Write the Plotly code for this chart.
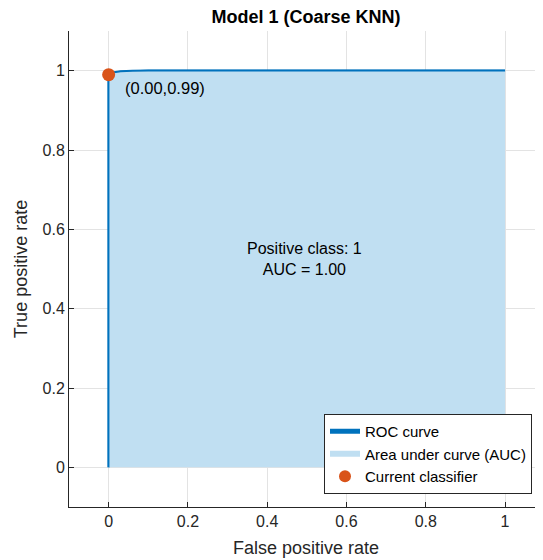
import plotly.graph_objects as go

fpr = [0.0, 0.0, 0.01, 0.03, 0.06, 0.1, 1.0]
tpr = [0.0, 0.99, 0.995, 0.998, 0.999, 1.0, 1.0]
cur_fpr = [0.0]
cur_tpr = [0.99]
title = "Model 1 (Coarse KNN)"
auc_text = "Positive class: 1<br>AUC = 1.00"
point_label = "(0.00,0.99)"

FONT = "Liberation Sans, Arial, Helvetica, sans-serif"
OFF = 8  # page body margin
W, H = 543 - OFF, 560 - OFF
fig = go.Figure()
fig.add_trace(go.Scatter(x=fpr, y=tpr, mode="lines", name="ROC curve",
                         line=dict(color="#0072BD", width=2.5), legendrank=1))
fig.add_trace(go.Scatter(x=fpr, y=tpr, mode="none", fill="tozeroy",
                         fillcolor="#C0DFF2", name="Area under curve (AUC)", legendrank=2))
fig.add_trace(go.Scatter(x=fpr, y=tpr, mode="lines", showlegend=False,
                         line=dict(color="#0072BD", width=1.6), hoverinfo="skip"))
fig.add_trace(go.Scatter(x=cur_fpr, y=cur_tpr, mode="markers", name="Current classifier",
                         marker=dict(color="#D95319", size=13), legendrank=3))

fig.add_annotation(x=0.037, y=0.957, text=point_label, showarrow=False, xanchor="left",
                   yanchor="middle", font=dict(size=16.5, color="#000000", family=FONT))
fig.add_annotation(x=0.493, y=0.525, text=auc_text, showarrow=False, xanchor="center",
                   yanchor="middle", font=dict(size=16, color="#000000", family=FONT))

axis_common = dict(showgrid=True, gridcolor="#E3E3E3", gridwidth=1, zeroline=False,
                   showline=True, linecolor="#262626", linewidth=1, ticks="inside",
                   ticklen=5, tickcolor="#262626", tickfont=dict(size=16, color="#262626", family=FONT),
                   mirror=False, automargin=False)
fig.update_xaxes(range=[-0.1, 1.0957], tickvals=[0, 0.2, 0.4, 0.6, 0.8, 1],
                 ticktext=["0", "0.2", "0.4", "0.6", "0.8", "1"],
                 title=dict(text="False positive rate", font=dict(size=18, color="#262626", family=FONT), standoff=12),
                 **axis_common)
fig.update_yaxes(range=[-0.1, 1.1], tickvals=[0, 0.2, 0.4, 0.6, 0.8, 1],
                 ticktext=["0", "0.2", "0.4", "0.6", "0.8", "1"],
                 title=dict(text="True positive rate", font=dict(size=18, color="#262626", family=FONT), standoff=10),
                 **axis_common)

fig.update_layout(
    width=W, height=H,
    margin=dict(l=69 - OFF, r=0, t=31 - OFF, b=53),
    paper_bgcolor="white", plot_bgcolor="white",
    title=dict(text="<b>" + title + "</b>", x=(306 - OFF) / W, xanchor="center",
               y=1 - (17 - OFF) / H, yanchor="middle", font=dict(size=18, color="#000000", family=FONT)),
    legend=dict(x=(532 - 69) / 474, y=(507 - 494) / 476, xanchor="right", yanchor="bottom", bgcolor="white",
                bordercolor="#262626", borderwidth=1, font=dict(size=15, color="#000000", family=FONT),
                tracegroupgap=0, itemsizing="constant"),
    showlegend=True,
)
fig.write_html("out.html")
